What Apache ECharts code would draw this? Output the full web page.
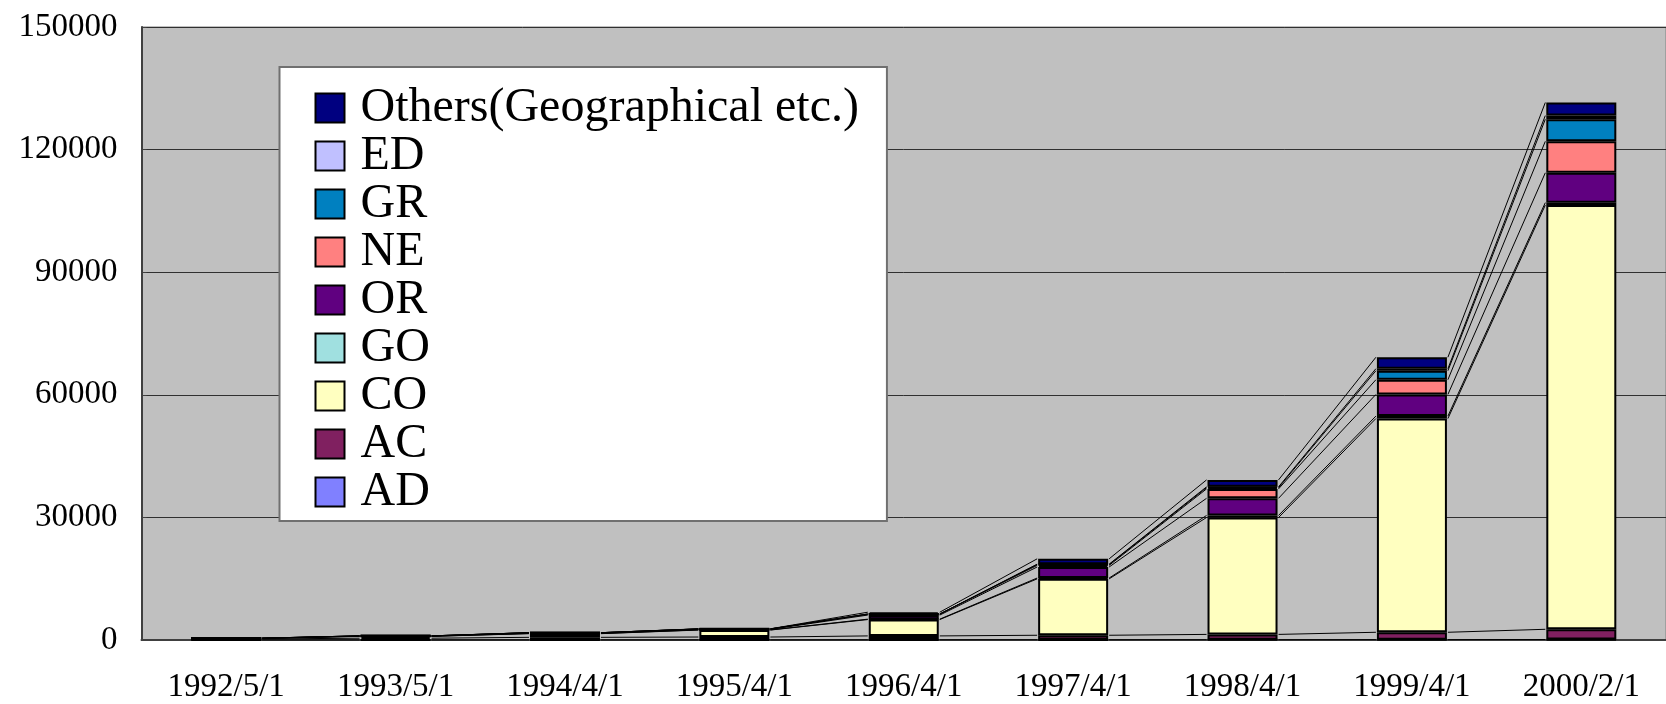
<!DOCTYPE html>
<html>
<head>
<meta charset="utf-8">
<script src="https://cdn.jsdelivr.net/npm/echarts@6/dist/echarts.min.js"></script>
<style>html,body{margin:0;padding:0;background:#fff}#c{width:1666px;height:704px}</style>
</head>
<body>
<div id="c"></div>
<script>
const categories = ['1992/5/1','1993/5/1','1994/4/1','1995/4/1','1996/4/1','1997/4/1','1998/4/1','1999/4/1','2000/2/1'];
const AD     = [10, 20, 30, 30, 50, 60, 70, 90, 120];
const AC     = [240, 420, 620, 700, 950, 1100, 1300, 1800, 2500];
const CO     = [150, 450, 900, 1700, 4000, 13800, 28600, 52300, 103800];
const GO     = [10, 20, 40, 40, 100, 200, 500, 600, 600];
const OR     = [20, 40, 80, 120, 1000, 2700, 4200, 5300, 7300];
const NE     = [20, 60, 120, 120, 250, 400, 2300, 3600, 7700];
const GR     = [0, 0, 0, 0, 0, 200, 300, 2200, 5400];
const ED     = [0, 0, 0, 0, 0, 100, 200, 500, 900];
const Others = [0, 0, 0, 30, 450, 1300, 1700, 2800, 3200];
const yTicks = [0, 30000, 60000, 90000, 120000, 150000];

const seriesDefs = [
  ['AD', AD, '#8080FF'],
  ['AC', AC, '#802060'],
  ['CO', CO, '#FFFFC0'],
  ['GO', GO, '#A0E0E0'],
  ['OR', OR, '#600080'],
  ['NE', NE, '#FF8080'],
  ['GR', GR, '#0080C0'],
  ['ED', ED, '#C0C0FF'],
  ['Others(Geographical etc.)', Others, '#000080']
];
const FONT = "'Liberation Serif','Times New Roman',serif";
const BAR_W = 70;

// cumulative tops for series lines
const cum = seriesDefs.map((_, k) => categories.map((_, i) => {
  let s = 0; for (let j = 0; j <= k; j++) s += seriesDefs[j][1][i]; return s;
}));

const series = seriesDefs.map(([name, data, color]) => ({
  name, type: 'bar', stack: 'total', data, barWidth: BAR_W,
  itemStyle: { color, borderColor: '#000', borderWidth: 2 },
  emphasis: { disabled: true }
}));

series.push({
  type: 'custom', name: 'serieslines', silent: true, z: 1,
  data: categories.slice(0, -1).map((c, i) => [i]),
  renderItem: function (params, api) {
    const i = api.value(0);
    const children = [];
    for (let k = 0; k < cum.length; k++) {
      const p1 = api.coord([i, cum[k][i]]);
      const p2 = api.coord([i + 1, cum[k][i + 1]]);
      children.push({
        type: 'line',
        shape: { x1: p1[0] + BAR_W / 2 + 1, y1: p1[1], x2: p2[0] - BAR_W / 2 - 1, y2: p2[1] },
        style: { stroke: '#000', lineWidth: 1 }
      });
    }
    return { type: 'group', children };
  }
});

const chart = echarts.init(document.getElementById('c'), null, { renderer: 'canvas' });
chart.setOption({
  animation: false,
  backgroundColor: '#ffffff',
  grid: { left: 141.5, right: -3, top: 27, bottom: 63.5, show: true, backgroundColor: '#C0C0C0', borderColor: '#808080', borderWidth: 1 },
  legend: {
    data: seriesDefs.map(d => d[0]).reverse(),
    orient: 'vertical', left: 279.5, top: 67,
    backgroundColor: '#ffffff', borderColor: '#707070', borderWidth: 2,
    padding: [17, 28, 5, 35],
    itemWidth: 29, itemHeight: 29, itemGap: 0,
    icon: 'rect',
    itemStyle: { borderColor: '#000', borderWidth: 2 },
    textStyle: { fontFamily: FONT, fontSize: 48, color: '#000', padding: [0, 0, 0, 11] },
    selectedMode: false
  },
  xAxis: {
    type: 'category', data: categories, boundaryGap: true,
    axisLine: { lineStyle: { color: '#404040', width: 2 } },
    axisTick: { inside: true, length: 10, lineStyle: { color: '#404040', width: 1 } },
    axisLabel: { fontFamily: FONT, fontSize: 33, color: '#000', margin: 31, interval: 0 },
    splitLine: { show: false }
  },
  yAxis: {
    type: 'value', min: yTicks[0], max: yTicks[yTicks.length - 1], interval: yTicks[1] - yTicks[0],
    axisLine: { show: true, lineStyle: { color: '#404040', width: 2 } },
    axisTick: { show: true, inside: true, length: 5, lineStyle: { color: '#404040' } },
    axisLabel: { fontFamily: FONT, fontSize: 33, color: '#000', margin: 24, formatter: v => String(v) },
    splitLine: { show: true, lineStyle: { color: '#303030', width: 1 } }
  },
  series
});
</script>
</body>
</html>
